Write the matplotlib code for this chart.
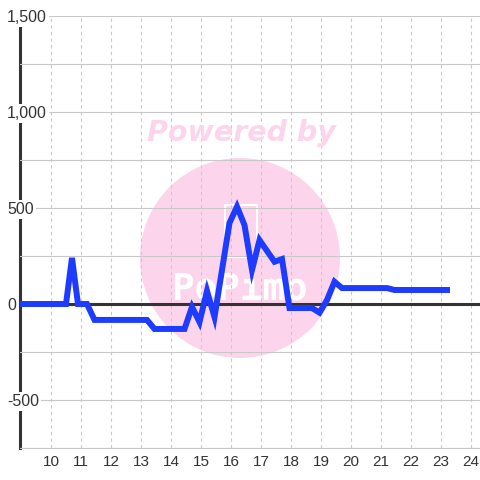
import matplotlib
matplotlib.use("Agg")
import matplotlib.pyplot as plt
from matplotlib.patches import Circle, Rectangle
from matplotlib.ticker import FixedLocator

plt.rcParams['font.family'] = ['Liberation Sans', 'DejaVu Sans']

# hour of day vs value
hours = [8.97, 10.5, 10.7, 10.9, 11.2, 11.45, 13.2, 13.45, 14.45, 14.7, 14.95,
         15.2, 15.45, 15.95, 16.2, 16.45, 16.7, 16.95, 17.45, 17.7, 17.95,
         18.7, 18.95, 19.2, 19.45, 19.7, 21.2, 21.45, 23.3]
values = [0, 0, 240, 0, 0, -83, -83, -130, -130, -15, -94,
          68, -68, 422, 507, 411, 177, 333, 220, 234, -21,
          -21, -45, 21, 116, 83, 83, 73, 73]

x_ticks = list(range(10, 25))
y_ticks = [-500, 0, 500, 1000, 1500]
y_tick_labels = ['-500', '0', '500', '1,000', '1,500']
y_minor = [-750, -250, 250, 750, 1250]

grid_col = '#c8c8c8'
text_col = '#333333'

fig = plt.figure(figsize=(4.8, 4.8), dpi=100)
fig.patch.set_facecolor('white')
ax = fig.add_axes([20 / 480, 32 / 480, 460 / 480, 432 / 480])
ax.set_xlim(8.967, 24.3)
ax.set_ylim(-750, 1500)

# watermark
ax.add_patch(Circle((0.5, 1 - 258 / 480), 100 / 480, transform=fig.transFigure,
                    facecolor='#fcd5ec', edgecolor='none', zorder=1))
fig.text(0.503, 1 - 133 / 480, 'Powered by', color='#fcd5ec', fontsize=20.5,
         fontweight='bold', fontstyle='italic', family='DejaVu Sans',
         ha='center', va='center', zorder=1)
ax.add_patch(Rectangle((225 / 480, 1 - 257 / 480), 32 / 480, 52 / 480,
                       transform=fig.transFigure, facecolor='none',
                       edgecolor='white', lw=1.5, zorder=1.5))
ax.text(0.5, 1 - 289 / 480, 'PoPimo', transform=fig.transFigure, color='white',
        fontsize=27, fontweight='bold', family='DejaVu Sans Mono',
        ha='center', va='center', zorder=1.5)

ax.set_axisbelow(False)
ax.xaxis.set_major_locator(FixedLocator(x_ticks))
ax.yaxis.set_major_locator(FixedLocator(y_ticks))
ax.yaxis.set_minor_locator(FixedLocator(y_minor))
ax.set_yticklabels(y_tick_labels)
ax.grid(axis='x', which='major', color=grid_col, linestyle=(0, (3, 3)), lw=0.8)
ax.grid(axis='y', which='both', color=grid_col, linestyle='-', lw=0.8)

for s in ['top', 'right']:
    ax.spines[s].set_visible(False)
ax.spines['bottom'].set_color(grid_col)
ax.spines['bottom'].set_linewidth(0.8)
ax.spines['left'].set_color(text_col)
ax.spines['left'].set_linewidth(2.2)

ax.tick_params(axis='x', length=0, pad=5, labelsize=11, labelcolor=text_col)
ax.tick_params(axis='y', which='both', length=0, pad=9.4, labelsize=11.5, labelcolor=text_col)
for lab in ax.get_yticklabels():
    lab.set_horizontalalignment('left')
    lab.set_bbox(dict(facecolor='white', edgecolor='none', pad=1.5))

ax.axhline(0, color=text_col, lw=2.2, zorder=2.6)
ax.plot(hours, values, color='#1e3cff', lw=4.3, solid_joinstyle='miter',
        solid_capstyle='butt', zorder=3)

fig.savefig('out.png', dpi=100, facecolor='white')
